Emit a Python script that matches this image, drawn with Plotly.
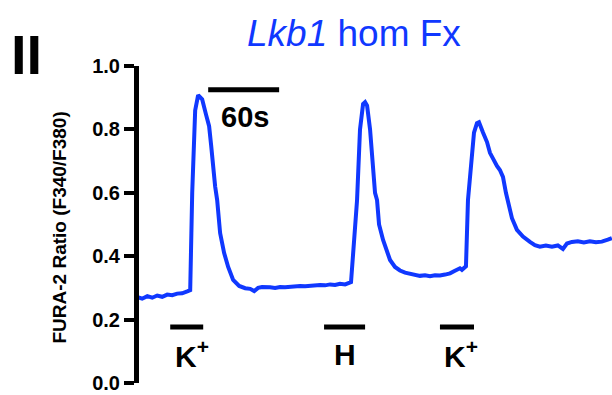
import plotly.graph_objects as go

# Time (s) and FURA-2 ratio
time_s = [0, 4.2, 8.5, 12.7, 16.9, 21.1, 25.4, 29.6, 33.8, 38.0, 42.3, 44.8,
          46.5, 49.0, 51.5, 54.9, 58.3, 60.8, 62.5, 64.2, 65.9, 67.6, 70.1,
          73.5, 76.9, 81.1, 86.2, 91.3, 95.5, 98.9, 102.2, 105.6, 109.0,
          112.4, 116.6, 120.8, 125.0, 129.3, 133.5, 137.7, 142.0, 146.2,
          150.4, 154.6, 158.9, 163.1, 167.3, 171.5, 175.8, 180.8, 183.4,
          185.9, 188.4, 191.0, 192.7, 194.4, 196.9, 199.4, 201.1, 202.8,
          204.5, 207.9, 211.3, 213.8, 218.0, 222.2, 226.5, 230.7, 234.9,
          239.1, 243.4, 247.6, 251.8, 256.0, 260.3, 264.5, 268.7, 272.9,
          274.6, 277.2, 278.0, 279.7, 282.2, 284.8, 287.3, 289.0, 292.4,
          295.8, 298.3, 301.7, 304.2, 306.7, 309.3, 311.8, 313.5, 316.9,
          321.1, 326.2, 332.1, 336.3, 340.5, 345.6, 350.7, 355.7, 360.0,
          363.4, 367.6, 372.6, 377.7, 382.8, 387.9, 392.9, 398.0, 401.4]
ratio = [0.271, 0.266, 0.274, 0.269, 0.276, 0.272, 0.279, 0.277, 0.282,
         0.283, 0.289, 0.293, 0.60, 0.86, 0.908, 0.895, 0.845, 0.81, 0.75,
         0.68, 0.62, 0.577, 0.473, 0.41, 0.366, 0.325, 0.306, 0.299, 0.297,
         0.290, 0.300, 0.303, 0.301, 0.302, 0.300, 0.303, 0.302, 0.304,
         0.303, 0.306, 0.305, 0.307, 0.306, 0.309, 0.308, 0.311, 0.309,
         0.313, 0.311, 0.318, 0.45, 0.577, 0.80, 0.880, 0.886, 0.875, 0.80,
         0.68, 0.60, 0.577, 0.50, 0.451, 0.41, 0.388, 0.366, 0.355, 0.348,
         0.345, 0.340, 0.338, 0.340, 0.337, 0.340, 0.339, 0.342, 0.346,
         0.354, 0.362, 0.357, 0.364, 0.368, 0.577, 0.70, 0.79, 0.82, 0.823,
         0.79, 0.76, 0.726, 0.70, 0.685, 0.672, 0.65, 0.60, 0.577, 0.52,
         0.483, 0.462, 0.445, 0.435, 0.430, 0.434, 0.430, 0.434, 0.423,
         0.440, 0.445, 0.447, 0.443, 0.447, 0.444, 0.446, 0.452, 0.457]

# Stimulus bars (start, end in s) and labels
stim_start = [27.9, 158.0, 256.0]
stim_end = [55.8, 192.7, 284.8]
stim_labels = ["K<sup>+</sup>", "H", "K<sup>+</sup>"]
stim_label_x = [46.5, 175.8, 274.0]
stim_bar_y = 0.177
stim_label_y = 0.091

# Scale bar
scale_start, scale_end = 60.0, 120.0
scale_y = 0.925
scale_label = "60s"

blue = "#1038ff"
fontfam = "Liberation Sans, Arial, Helvetica, sans-serif"

fig = go.Figure()
fig.add_trace(go.Scatter(x=time_s, y=ratio, mode="lines",
                         line=dict(color=blue, width=4), hoverinfo="skip"))

for s, e in zip(stim_start, stim_end):
    fig.add_trace(go.Scatter(x=[s, e], y=[stim_bar_y, stim_bar_y], mode="lines",
                             line=dict(color="black", width=5), hoverinfo="skip"))
fig.add_trace(go.Scatter(x=[scale_start, scale_end], y=[scale_y, scale_y], mode="lines",
                         line=dict(color="black", width=5), hoverinfo="skip"))

for lx, lt in zip(stim_label_x, stim_labels):
    fig.add_annotation(x=lx, y=stim_label_y, text=lt, showarrow=False,
                       font=dict(family=fontfam, size=30, color="black", weight="bold"),
                       xanchor="center", yanchor="middle")

fig.add_annotation(x=(scale_start + scale_end) / 2 + 1, y=0.839, text=scale_label,
                   showarrow=False,
                   font=dict(family=fontfam, size=29, color="black", weight="bold"),
                   xanchor="center", yanchor="middle")

fig.add_annotation(xref="paper", yref="paper", x=-0.168, y=0.489,
                   text="FURA-2 Ratio (F340/F380)", textangle=-90, showarrow=False,
                   font=dict(family=fontfam, size=19, color="black", weight="bold"),
                   xanchor="center", yanchor="middle")

fig.add_annotation(xref="paper", yref="paper", x=-0.238, y=1.035, text="II",
                   showarrow=False,
                   font=dict(family=fontfam, size=56, color="black", weight="bold"),
                   xanchor="center", yanchor="middle")

fig.add_annotation(xref="paper", yref="paper", x=0.455, y=1.104,
                   text="<i>Lkb1</i> hom Fx", showarrow=False,
                   font=dict(family=fontfam, size=37, color=blue),
                   xanchor="center", yanchor="middle")

fig.update_layout(
    width=612, height=395,
    margin=dict(l=139, r=0, t=66, b=12),
    plot_bgcolor="white", paper_bgcolor="white",
    showlegend=False,
    xaxis=dict(visible=False, range=[1.5, 401.5], fixedrange=True),
    yaxis=dict(range=[0, 1.0], tickvals=[0, 0.2, 0.4, 0.6, 0.8, 1.0],
               ticktext=["0.0", "0.2", "0.4", "0.6", "0.8", "1.0"],
               showgrid=False, zeroline=False, showline=True,
               linecolor="black", linewidth=5, ticks="outside",
               ticklen=10, tickwidth=4, tickcolor="black",
               tickfont=dict(family=fontfam, size=20, color="black", weight="bold"),
               fixedrange=True),
)

fig.write_html("out.html")
